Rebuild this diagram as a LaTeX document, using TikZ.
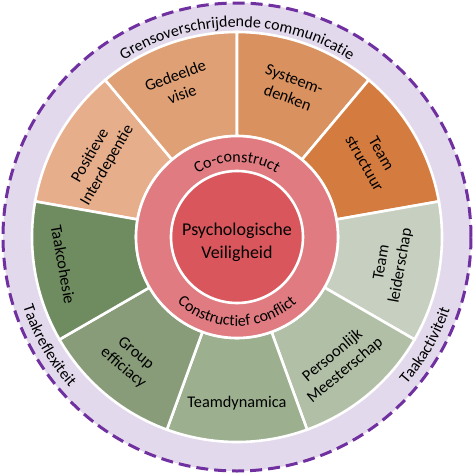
\documentclass[tikz,border=0pt]{standalone}
\usepackage{fontspec}
\setmainfont{Carlito}
\usepackage{xcolor}
\usetikzlibrary{decorations.text}
\definecolor{wheellav}{HTML}{E3D9EC}
\definecolor{wheeldash}{HTML}{7030A0}
\definecolor{segpeach}{HTML}{E6AE8B}
\definecolor{segtan}{HTML}{DEA074}
\definecolor{segclay}{HTML}{D9915F}
\definecolor{segrust}{HTML}{D47C40}
\definecolor{segsage}{HTML}{C7D0C0}
\definecolor{segmoss}{HTML}{B0BFA6}
\definecolor{segfern}{HTML}{9CB090}
\definecolor{segolive}{HTML}{889C79}
\definecolor{segforest}{HTML}{6F8B60}
\definecolor{corepink}{HTML}{E07C81}
\definecolor{corered}{HTML}{D9575C}
\tikzset{
wedge/.style={draw=white, line width=2.6pt},
seglabel/.style={font=\fontsize{16.3}{19.5}\selectfont, align=center, text=black, inner sep=0pt},
corelabel/.style={font=\fontsize{18}{23}\selectfont, align=center, text=black, inner sep=0pt},
outerring/.style={draw=wheeldash, fill=wheellav, line width=3pt, dash pattern=on 12pt off 6pt}
}
\newcommand{\ringfont}{\fontsize{16}{19}\selectfont}

\begin{document}
\begin{tikzpicture}[x=1pt,y=1pt]
% Wheel centred at the origin, radii in px of the 475 px reference
\def\rDash{234} % dashed outer border
\def\rOut{205} % outer edge of the wedges
\def\rIn{101} % pink ring / inner edge of the wedges
\def\rCore{66} % red core
\useasboundingbox (-237,-238) rectangle (238,237);

% ── Outer lavender band ────────────────────────────────────────
\draw[outerring] (0,0) circle[radius=\rDash];

% ── Orange wedges (top) ────────────────────────────────────────
\filldraw[wedge, fill=segpeach] (130:\rIn) arc[start angle=130,end angle=170,radius=\rIn]
 -- (170:\rOut) arc[start angle=170,end angle=130,radius=\rOut] -- cycle;
\filldraw[wedge, fill=segtan] (90:\rIn) arc[start angle=90,end angle=130,radius=\rIn]
 -- (130:\rOut) arc[start angle=130,end angle=90,radius=\rOut] -- cycle;
\filldraw[wedge, fill=segclay] (50:\rIn) arc[start angle=50,end angle=90,radius=\rIn]
 -- (90:\rOut) arc[start angle=90,end angle=50,radius=\rOut] -- cycle;
\filldraw[wedge, fill=segrust] (10:\rIn) arc[start angle=10,end angle=50,radius=\rIn]
 -- (50:\rOut) arc[start angle=50,end angle=10,radius=\rOut] -- cycle;

% ── Green wedges (bottom) ──────────────────────────────────────
\filldraw[wedge, fill=segsage] (-30:\rIn) arc[start angle=-30,end angle=10,radius=\rIn]
 -- (10:\rOut) arc[start angle=10,end angle=-30,radius=\rOut] -- cycle;
\filldraw[wedge, fill=segmoss] (-70:\rIn) arc[start angle=-70,end angle=-30,radius=\rIn]
 -- (-30:\rOut) arc[start angle=-30,end angle=-70,radius=\rOut] -- cycle;
\filldraw[wedge, fill=segfern] (-110:\rIn) arc[start angle=-110,end angle=-70,radius=\rIn]
 -- (-70:\rOut) arc[start angle=-70,end angle=-110,radius=\rOut] -- cycle;
\filldraw[wedge, fill=segolive] (-150:\rIn) arc[start angle=-150,end angle=-110,radius=\rIn]
 -- (-110:\rOut) arc[start angle=-110,end angle=-150,radius=\rOut] -- cycle;
\filldraw[wedge, fill=segforest] (170:\rIn) arc[start angle=170,end angle=210,radius=\rIn]
 -- (210:\rOut) arc[start angle=210,end angle=170,radius=\rOut] -- cycle;

% ── Core rings ─────────────────────────────────────────────────
\filldraw[wedge, fill=corepink] (0,0) circle[radius=\rIn];
\filldraw[wedge, fill=corered] (0,0) circle[radius=\rCore];
\node[corelabel] (core) at (0,-5) {Psychologische\\Veiligheid};

% ── Curved ring texts ──────────────────────────────────────────
\path[decorate, decoration={text along path, text align=center,
 text={|\ringfont|Grensoverschrijdende communicatie}}]
 (172:210) arc[start angle=172,end angle=8,radius=210];
\path[decorate, decoration={text along path, text align=center,
 text={|\ringfont|Taakreflexiteit}}]
 (-190:225) arc[start angle=-190,end angle=-110,radius=225];
\path[decorate, decoration={text along path, text align=center,
 text={|\ringfont|Taakactiviteit}}]
 (-70:225) arc[start angle=-70,end angle=10,radius=225];
\path[decorate, decoration={text along path, text align=center,
 text={|\ringfont|Co-construct}}]
 (160:75) arc[start angle=160,end angle=20,radius=75];
\path[decorate, decoration={text along path, text align=center,
 text={|\ringfont|Constructief conflict}}]
 (-165:89) arc[start angle=-165,end angle=-15,radius=89];

% ── Wedge labels ───────────────────────────────────────────────
\node[seglabel, rotate=60] (interdep) at (151:158) {Positieve\\Interdepentie};
\node[seglabel, rotate=20] (visie) at (111:163) {Gedeelde\\visie};
\node[seglabel, rotate=-20] (systeem) at (70:158) {Systeem-\\denken};
\node[seglabel, rotate=-60] (structuur) at (30:157) {Team\\structuur};
\node[seglabel, rotate=80] (leiderschap) at (-10:157) {Team\\leiderschap};
\node[seglabel, rotate=40] (meesterschap) at (-51:162) {Persoonlijk\\Meesterschap};
\node[seglabel] (dynamica) at (-90:166) {Teamdynamica};
\node[seglabel, rotate=-40] (efficacy) at (-131:164) {Group\\efficiacy};
\node[seglabel, rotate=-80] (cohesie) at (189:176) {Taakcohesie};
\end{tikzpicture}
\end{document}
